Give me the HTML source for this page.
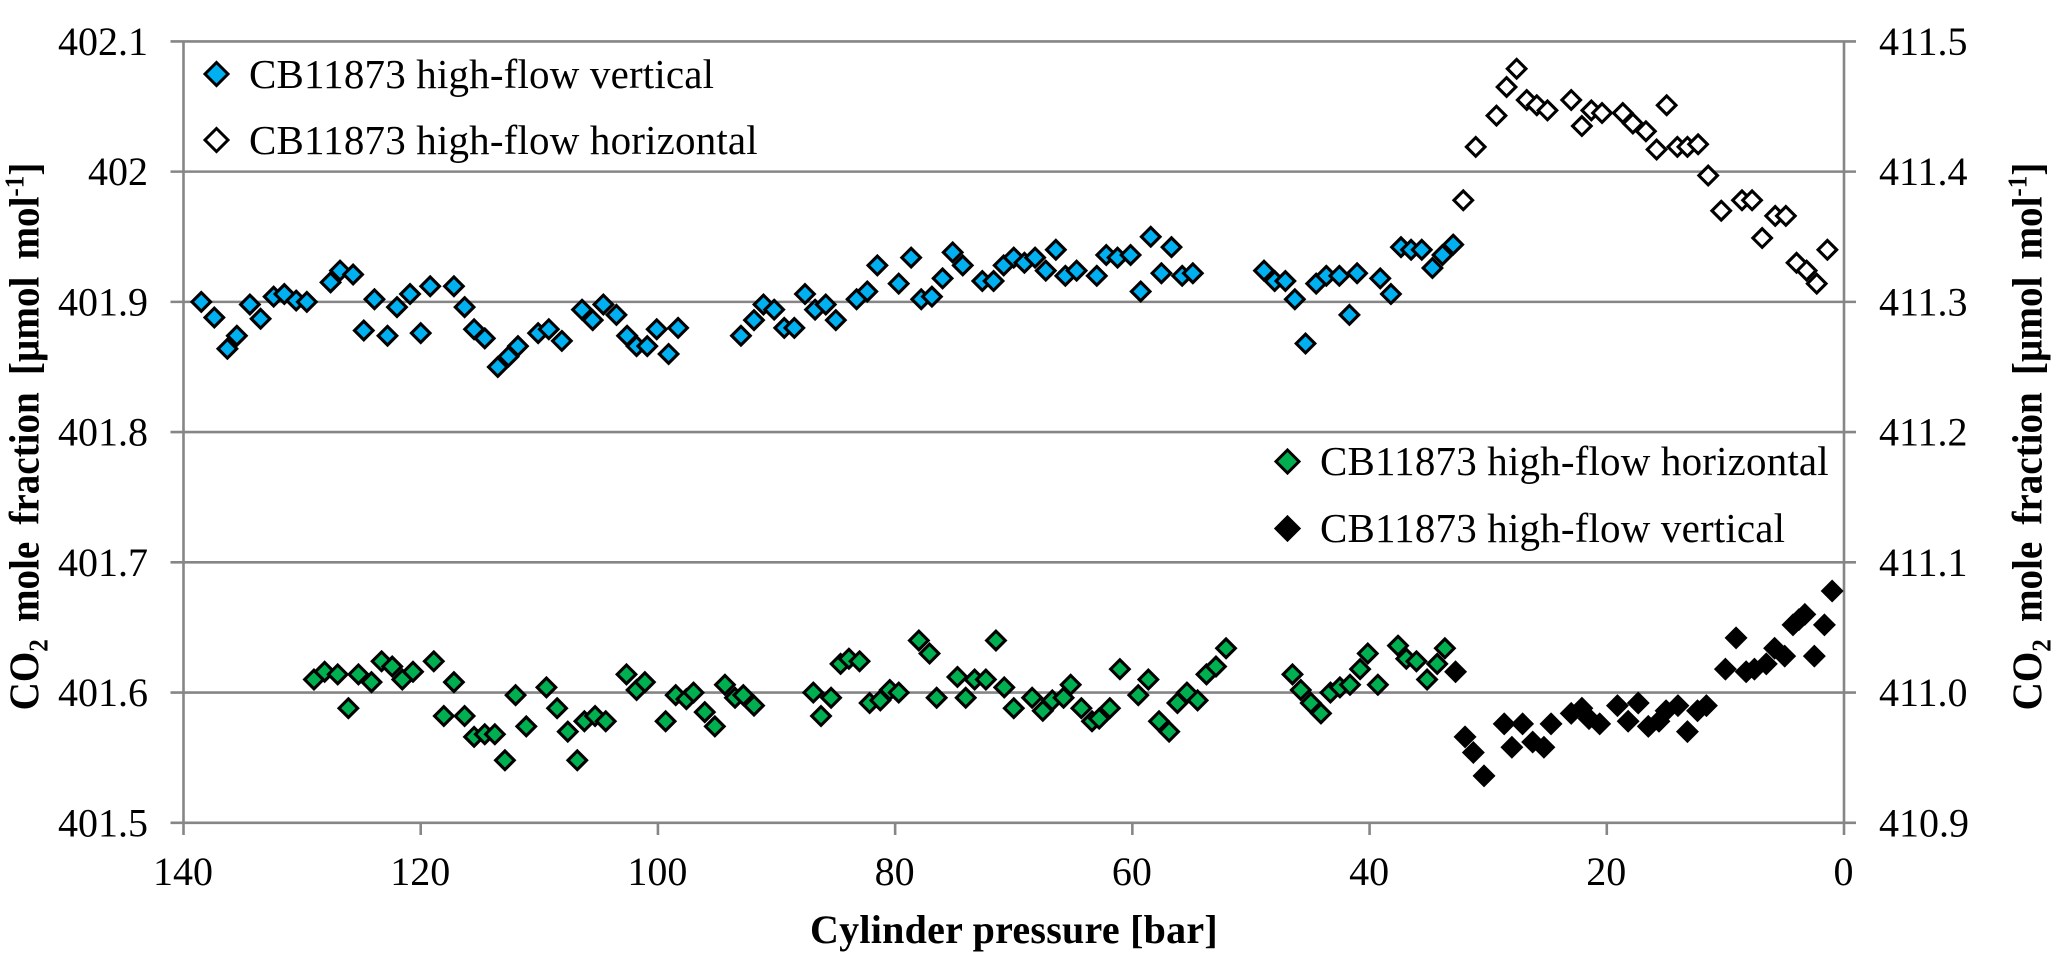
<!DOCTYPE html>
<html lang="en">
<head>
<meta charset="utf-8">
<title>CO2 mole fraction vs cylinder pressure</title>
<style>
html,body{margin:0;padding:0;background:#fff;}
svg{display:block;}
text{font-family:"Liberation Serif",serif;fill:#000;}
.tick{font-size:40px;}
.legend{font-size:41px;letter-spacing:0.17px;}
.title{font-size:40px;font-weight:bold;}
.ytitle{font-size:42px;font-weight:bold;}
</style>
</head>
<body>
<svg id="chart" xmlns="http://www.w3.org/2000/svg" width="2066" height="964" viewBox="0 0 2066 964">
  <rect x="0" y="0" width="2066" height="964" fill="#ffffff"/>
  <g id="grid"></g>
  <g id="xticks"></g>
  <g id="yleftticks"></g>
  <g id="yrightticks"></g>
  <g id="marks"></g>

  <text class="title" x="1014" y="943" text-anchor="middle" letter-spacing="0.25">Cylinder pressure [bar]</text>
  <text class="ytitle" transform="translate(38.5,436.5) rotate(-90) scale(0.93,1)" text-anchor="middle" word-spacing="8">CO<tspan font-size="27" dy="9">2</tspan><tspan dy="-9"> mole fraction [µmol mol</tspan><tspan font-size="27" dy="-15">-1</tspan><tspan dy="15">]</tspan></text>
  <text class="ytitle" transform="translate(2041.5,436.5) rotate(-90) scale(0.93,1)" text-anchor="middle" word-spacing="8">CO<tspan font-size="27" dy="9">2</tspan><tspan dy="-9"> mole fraction [µmol mol</tspan><tspan font-size="27" dy="-15">-1</tspan><tspan dy="15">]</tspan></text>

  <g>
    <path d="M216.5 62.5L228 74L216.5 85.5L205 74Z" fill="#00b0f0" stroke="#000" stroke-width="3"/>
    <text class="legend" x="249" y="88">CB11873 high-flow vertical</text>
  </g>
  <g>
    <path d="M216.5 128.5L228 140L216.5 151.5L205 140Z" fill="#ffffff" stroke="#000" stroke-width="3"/>
    <text class="legend" x="249" y="154">CB11873 high-flow horizontal</text>
  </g>
  <g>
    <path d="M1287.5 450L1299 461.5L1287.5 473L1276 461.5Z" fill="#00b050" stroke="#000" stroke-width="3"/>
    <text class="legend" x="1320" y="475">CB11873 high-flow horizontal</text>
  </g>
  <g>
    <path d="M1287.5 517L1299 528.5L1287.5 540L1276 528.5Z" fill="#000000" stroke="#000" stroke-width="3"/>
    <text class="legend" x="1320" y="542">CB11873 high-flow vertical</text>
  </g>
</svg>
<script>
const xTickValues = [140, 120, 100, 80, 60, 40, 20, 0];
const leftTickValues = [402.1, 402, 401.9, 401.8, 401.7, 401.6, 401.5];
const leftTickLabels = ["402.1", "402", "401.9", "401.8", "401.7", "401.6", "401.5"];
const rightTickValues = [411.5, 411.4, 411.3, 411.2, 411.1, 411.0, 410.9];
const rightTickLabels = ["411.5", "411.4", "411.3", "411.2", "411.1", "411.0", "410.9"];

const bluePressure = [138.5,137.4,136.3,135.5,134.4,133.5,132.4,131.5,130.5,129.6,127.6,126.8,125.7,124.8,123.9,122.8,122.0,120.9,120.0,119.2,117.2,116.3,115.5,114.6,113.5,112.6,111.8,110.1,109.2,108.1,106.4,105.5,104.6,103.5,102.6,101.8,100.9,100.1,99.1,98.3,93.0,91.9,91.1,90.2,89.35,88.5,87.6,86.75,85.85,85.0,83.25,82.35,81.5,79.7,78.65,77.8,76.9,76.0,75.15,74.3,72.65,71.7,70.85,70.0,69.1,68.2,67.3,66.45,65.65,64.7,63.0,62.2,61.25,60.15,59.3,58.45,57.55,56.7,55.8,54.9,48.9,48.0,47.1,46.3,45.4,44.5,43.65,42.55,41.7,41.05,39.1,38.2,37.35,36.5,35.6,34.7,33.85,32.95];
const blueCo2 = [401.900,401.888,401.864,401.874,401.898,401.887,401.904,401.906,401.901,401.900,401.915,401.924,401.921,401.878,401.902,401.874,401.896,401.906,401.876,401.912,401.912,401.896,401.879,401.872,401.850,401.858,401.866,401.876,401.879,401.870,401.894,401.886,401.898,401.890,401.874,401.866,401.866,401.879,401.860,401.880,401.874,401.886,401.898,401.894,401.880,401.880,401.906,401.894,401.898,401.886,401.902,401.908,401.928,401.914,401.934,401.902,401.904,401.918,401.938,401.928,401.916,401.916,401.928,401.934,401.930,401.934,401.924,401.940,401.920,401.924,401.920,401.936,401.934,401.936,401.908,401.950,401.922,401.942,401.920,401.922,401.924,401.916,401.916,401.902,401.868,401.914,401.920,401.920,401.890,401.922,401.918,401.906,401.942,401.940,401.940,401.926,401.936,401.944];

const whitePressure = [32.1,31.05,29.3,28.45,27.6,26.75,25.9,25.0,23.0,22.1,21.3,20.4,18.65,17.8,16.7,15.8,14.95,14.05,13.2,12.3,11.45,10.35,8.6,7.75,6.9,5.8,4.9,4.0,3.15,2.3,1.4];
const whiteCo2 = [401.978,402.019,402.043,402.065,402.079,402.055,402.051,402.047,402.055,402.035,402.047,402.045,402.045,402.037,402.031,402.017,402.051,402.019,402.019,402.021,401.997,401.970,401.978,401.978,401.949,401.966,401.966,401.930,401.924,401.914,401.940];

const greenPressure = [129.0,128.1,127.0,126.1,125.25,124.15,123.3,122.4,121.55,120.65,118.9,118.05,117.2,116.3,115.5,114.6,113.75,112.9,112.0,111.1,109.4,108.5,107.6,106.8,106.2,105.3,104.4,102.65,101.8,101.1,99.35,98.5,97.6,97.0,96.05,95.2,94.35,93.5,92.8,91.9,86.9,86.25,85.4,84.6,83.9,83.0,82.15,81.25,80.45,79.7,78.0,77.1,76.5,74.75,74.05,73.3,72.35,71.5,70.8,70.0,68.45,67.55,66.75,65.8,65.2,64.3,63.4,62.8,61.9,61.05,59.5,58.65,57.75,56.9,56.2,55.4,54.5,53.75,52.95,52.1,46.5,45.8,44.95,44.1,43.3,42.5,41.65,40.8,40.15,39.3,37.6,36.9,36.05,35.15,34.3,33.65];
const greenCo2 = [411.010,411.016,411.014,410.988,411.014,411.008,411.024,411.020,411.010,411.016,411.024,410.982,411.008,410.982,410.966,410.968,410.968,410.948,410.998,410.974,411.004,410.988,410.970,410.948,410.978,410.982,410.978,411.014,411.002,411.008,410.978,410.998,410.995,411.000,410.985,410.974,411.006,410.996,410.998,410.990,411.000,410.982,410.996,411.022,411.026,411.024,410.992,410.994,411.002,411.000,411.040,411.030,410.996,411.012,410.996,411.010,411.010,411.040,411.004,410.988,410.996,410.986,410.994,410.996,411.006,410.988,410.978,410.980,410.988,411.018,410.998,411.010,410.978,410.970,410.992,411.000,410.994,411.014,411.020,411.034,411.014,411.002,410.992,410.984,411.000,411.004,411.006,411.018,411.030,411.006,411.036,411.026,411.024,411.010,411.022,411.034];

const blackPressure = [32.75,31.95,31.25,30.35,28.65,28.0,27.1,26.25,25.3,24.7,23.0,22.1,21.5,20.6,19.1,18.2,17.35,16.5,15.6,15.0,14.0,13.2,12.35,11.6,10.0,9.1,8.25,7.55,6.55,5.85,5.0,4.3,3.8,3.3,2.5,1.65,1.0];
const blackCo2 = [411.016,410.966,410.954,410.936,410.976,410.958,410.976,410.962,410.958,410.976,410.984,410.988,410.980,410.976,410.990,410.978,410.992,410.974,410.978,410.986,410.990,410.970,410.986,410.990,411.018,411.042,411.016,411.018,411.022,411.034,411.028,411.052,411.056,411.060,411.028,411.052,411.078];

const NS = "http://www.w3.org/2000/svg";
const plotLeft = 183.5, plotRight = 1844, plotTop = 41.4, plotBottom = 822.8;

function xScale(bar) { return plotRight - (bar / 140) * (plotRight - plotLeft); }
function yLeft(v) { return plotBottom - ((v - 401.5) / 0.6) * (plotBottom - plotTop); }
function yRight(v) { return plotBottom - ((v - 410.9) / 0.6) * (plotBottom - plotTop); }

function makeLine(parent, x1, y1, x2, y2) {
  const l = document.createElementNS(NS, "line");
  l.setAttribute("x1", x1);
  l.setAttribute("y1", y1);
  l.setAttribute("x2", x2);
  l.setAttribute("y2", y2);
  l.setAttribute("stroke", "#868686");
  l.setAttribute("stroke-width", "2.6");
  parent.appendChild(l);
  return l;
}

function makeText(parent, x, y, anchor, str) {
  const t = document.createElementNS(NS, "text");
  t.setAttribute("x", x);
  t.setAttribute("y", y);
  t.setAttribute("text-anchor", anchor);
  t.setAttribute("class", "tick");
  t.textContent = str;
  parent.appendChild(t);
  return t;
}

const gridG = document.getElementById("grid");
leftTickValues.forEach(function (v) {
  const line = makeLine(gridG, 170.5, yLeft(v), 1856, yLeft(v));
  
  
});
xTickValues.forEach(function (v) {
  const top = (v === 140 || v === 0) ? plotTop : plotBottom;
  const line = makeLine(gridG, xScale(v), top, xScale(v), 835);
  
  
});

const xG = document.getElementById("xticks");
xTickValues.forEach(function (v) {
  const t = makeText(xG, xScale(v) - 0.5, 885, "middle", String(v));
  
  
});
const ylG = document.getElementById("yleftticks");
leftTickValues.forEach(function (v, i) {
  const t = makeText(ylG, 148, yLeft(v) + 13.5, "end", leftTickLabels[i]);
  
  
});
const yrG = document.getElementById("yrightticks");
rightTickValues.forEach(function (v, i) {
  const t = makeText(yrG, 1879, yRight(v) + 13.5, "start", rightTickLabels[i]);
  
  
});

function drawSeries(seriesName, pressures, values, yFn, fill) {
  const group = document.createElementNS(NS, "g");
  
  
  document.getElementById("marks").appendChild(group);
  const r = 9.3;
  pressures.forEach(function (p, i) {
    const cx = xScale(p), cy = yFn(values[i]);
    const d = document.createElementNS(NS, "path");
    d.setAttribute("d", "M" + cx + " " + (cy - r) + "L" + (cx + r) + " " + cy + "L" + cx + " " + (cy + r) + "L" + (cx - r) + " " + cy + "Z");
    d.setAttribute("fill", fill);
    d.setAttribute("stroke", "#000");
    d.setAttribute("stroke-width", "3.1");
    
    
    group.appendChild(d);
  });
}

drawSeries("series-white-horizontal", whitePressure, whiteCo2, yLeft, "#ffffff");
drawSeries("series-blue-vertical", bluePressure, blueCo2, yLeft, "#00b0f0");
drawSeries("series-black-vertical", blackPressure, blackCo2, yRight, "#000000");
drawSeries("series-green-horizontal", greenPressure, greenCo2, yRight, "#00b050");
</script>
</body>
</html>
